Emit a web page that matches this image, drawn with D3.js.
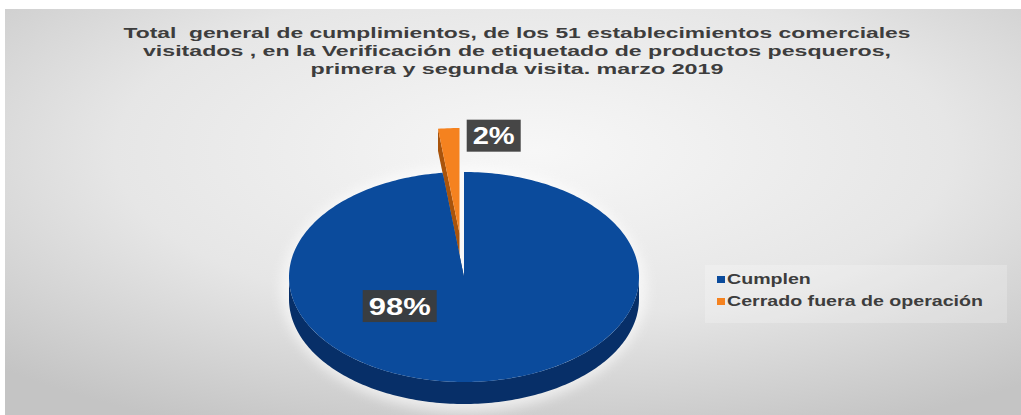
<!DOCTYPE html>
<html>
<head>
<meta charset="utf-8">
<script src="https://cdn.jsdelivr.net/npm/d3@7"></script>
<style>
  html, body { margin: 0; padding: 0; background: #ffffff; }
  svg { display: block; }
  text { white-space: pre; }
</style>
</head>
<body>
<div id="chart"></div>
<script>
// Datos del gráfico
const categories = ['Cumplen', 'Cerrado fuera de operación'];
const values = [50, 1];
const titleLines = [
  'Total  general de cumplimientos, de los 51 establecimientos comerciales',
  'visitados , en la Verificación de etiquetado de productos pesqueros,',
  'primera y segunda visita. marzo 2019'
];

const width = 1021;
const height = 415;

// Colores de cada porción (cara superior y lateral)
const topColors = ['#0b4b9c', '#f5821f'];
const sideColors = ['#072f68', '#a9540c'];

// Geometría del pastel 3D
const cx = 464, cy = 277, rx = 175, ry = 105, depth = 22;
const explode = [0, 0.42];

const svg = d3.select('#chart')
  .append('svg')
  .attr('width', width)
  .attr('height', height);

const defs = svg.append('defs');

const bg = defs.append('radialGradient')
  .attr('id', 'bg')
  .attr('cx', '52%').attr('cy', '35%').attr('r', '75%');
bg.append('stop').attr('offset', '0').attr('stop-color', '#f7f7f7');
bg.append('stop').attr('offset', '0.55').attr('stop-color', '#e6e6e6');
bg.append('stop').attr('offset', '1').attr('stop-color', '#c4c4c4');

defs.append('filter').attr('id', 'glow')
  .attr('x', '-20%').attr('y', '-20%').attr('width', '140%').attr('height', '140%')
  .append('feGaussianBlur').attr('stdDeviation', 6);

// Fondo del área del gráfico
svg.append('rect')
  .attr('x', 5).attr('y', 9)
  .attr('width', width - 5).attr('height', height - 9)
  .attr('fill', 'url(#bg)');

// Título
const title = svg.append('g')
  .attr('font-family', '"Liberation Sans", Arial, sans-serif')
  .attr('font-weight', 'bold')
  .attr('font-size', 15)
  .attr('fill', '#3d3d3d')
  .attr('text-anchor', 'middle');

const titleWidths = [787, 748, 413];
titleLines.forEach((line, i) => {
  title.append('text')
    .attr('x', 517)
    .attr('y', 38 + i * 18)
    .attr('textLength', titleWidths[i])
    .attr('lengthAdjust', 'spacingAndGlyphs')
    .text(line);
});

// Porciones del pastel
const pie = d3.pie().sort(null).value(d => d);
const arcs = pie(values);
const total = d3.sum(values);

function pt(a, r, dz, off) {
  return [cx + off[0] + r * rx * Math.sin(a), cy + off[1] - r * ry * Math.cos(a) + dz];
}
function sweep(a0, a1) {
  const n = Math.max(2, Math.ceil(Math.abs(a1 - a0) / 0.02));
  return d3.range(n + 1).map(i => a0 + (a1 - a0) * i / n);
}
const line = d3.line();

// Halo claro debajo del pastel
svg.append('ellipse')
  .attr('cx', cx).attr('cy', cy + 12)
  .attr('rx', rx + 8).attr('ry', ry + 18)
  .attr('fill', '#ffffff')
  .attr('opacity', 0.6)
  .attr('filter', 'url(#glow)');

const pieG = svg.append('g');

// Dibujar primero la porción de atrás (naranja), luego la azul
const order = [1, 0];
order.forEach(i => {
  const d = arcs[i];
  const mid = (d.startAngle + d.endAngle) / 2;
  const off = [explode[i] * rx * Math.sin(mid), -explode[i] * ry * Math.cos(mid)];
  const g = pieG.append('g');

  // Caras radiales
  [d.startAngle, d.endAngle].forEach(a => {
    const quad = [pt(a, 0, 0, off), pt(a, 1, 0, off), pt(a, 1, depth, off), pt(a, 0, depth, off)];
    g.append('path')
      .attr('d', line(quad) + 'Z')
      .attr('fill', sideColors[i]);
  });

  // Pared exterior visible (mitad frontal)
  const lo = Math.max(d.startAngle, Math.PI / 2);
  const hi = Math.min(d.endAngle, 3 * Math.PI / 2);
  if (hi > lo) {
    const angs = sweep(lo, hi);
    const wall = angs.map(a => pt(a, 1, 0, off))
      .concat(angs.slice().reverse().map(a => pt(a, 1, depth, off)));
    g.append('path')
      .attr('d', line(wall) + 'Z')
      .attr('fill', sideColors[i]);
  }

  // Cara superior
  const topPts = [pt(0, 0, 0, off)].concat(sweep(d.startAngle, d.endAngle).map(a => pt(a, 1, 0, off)));
  g.append('path')
    .attr('d', line(topPts) + 'Z')
    .attr('fill', topColors[i]);
});

// Etiquetas de porcentaje
const labelSpots = [
  { a: 233 * Math.PI / 180, r: 0.46, dx: 0, dy: 0, w: 62 },
  { a: null, r: 1, dx: 45, dy: 7.5, w: 42 }
];

arcs.forEach((d, i) => {
  const spot = labelSpots[i];
  const mid = (d.startAngle + d.endAngle) / 2;
  const off = [explode[i] * rx * Math.sin(mid), -explode[i] * ry * Math.cos(mid)];
  const p = pt(spot.a === null ? mid : spot.a, spot.r, 0, off);
  const x = p[0] + spot.dx;
  const y = p[1] + spot.dy;
  const txt = Math.round(d.value / total * 100) + '%';

  const g = svg.append('g');
  g.append('rect')
    .attr('x', x - spot.w / 2 - 6)
    .attr('y', y - 16)
    .attr('width', spot.w + 12)
    .attr('height', 32)
    .attr('fill', '#3c3c3c')
    .attr('opacity', 0.95);
  g.append('text')
    .attr('x', x)
    .attr('y', y + 8.5)
    .attr('text-anchor', 'middle')
    .attr('font-family', '"Liberation Sans", Arial, sans-serif')
    .attr('font-weight', 'bold')
    .attr('font-size', 24)
    .attr('fill', '#ffffff')
    .attr('textLength', spot.w)
    .attr('lengthAdjust', 'spacingAndGlyphs')
    .text(txt);
});

// Leyenda
const legend = svg.append('g');
legend.append('rect')
  .attr('x', 705).attr('y', 265)
  .attr('width', 302).attr('height', 58)
  .attr('fill', '#ffffff')
  .attr('opacity', 0.22);

const stretch = 1.4;
categories.forEach((c, i) => {
  const y = 284 + i * 22;
  legend.append('rect')
    .attr('x', 717).attr('y', y - 8)
    .attr('width', 8).attr('height', 7)
    .attr('fill', topColors[i]);
  const t = legend.append('text')
    .attr('x', 727)
    .attr('y', y)
    .attr('font-family', '"Liberation Sans", Arial, sans-serif')
    .attr('font-weight', 'bold')
    .attr('font-size', 14)
    .attr('fill', '#3d3d3d')
    .text(c);
  const len = t.node().getComputedTextLength();
  t.attr('textLength', len * stretch).attr('lengthAdjust', 'spacingAndGlyphs');
});
</script>
</body>
</html>
